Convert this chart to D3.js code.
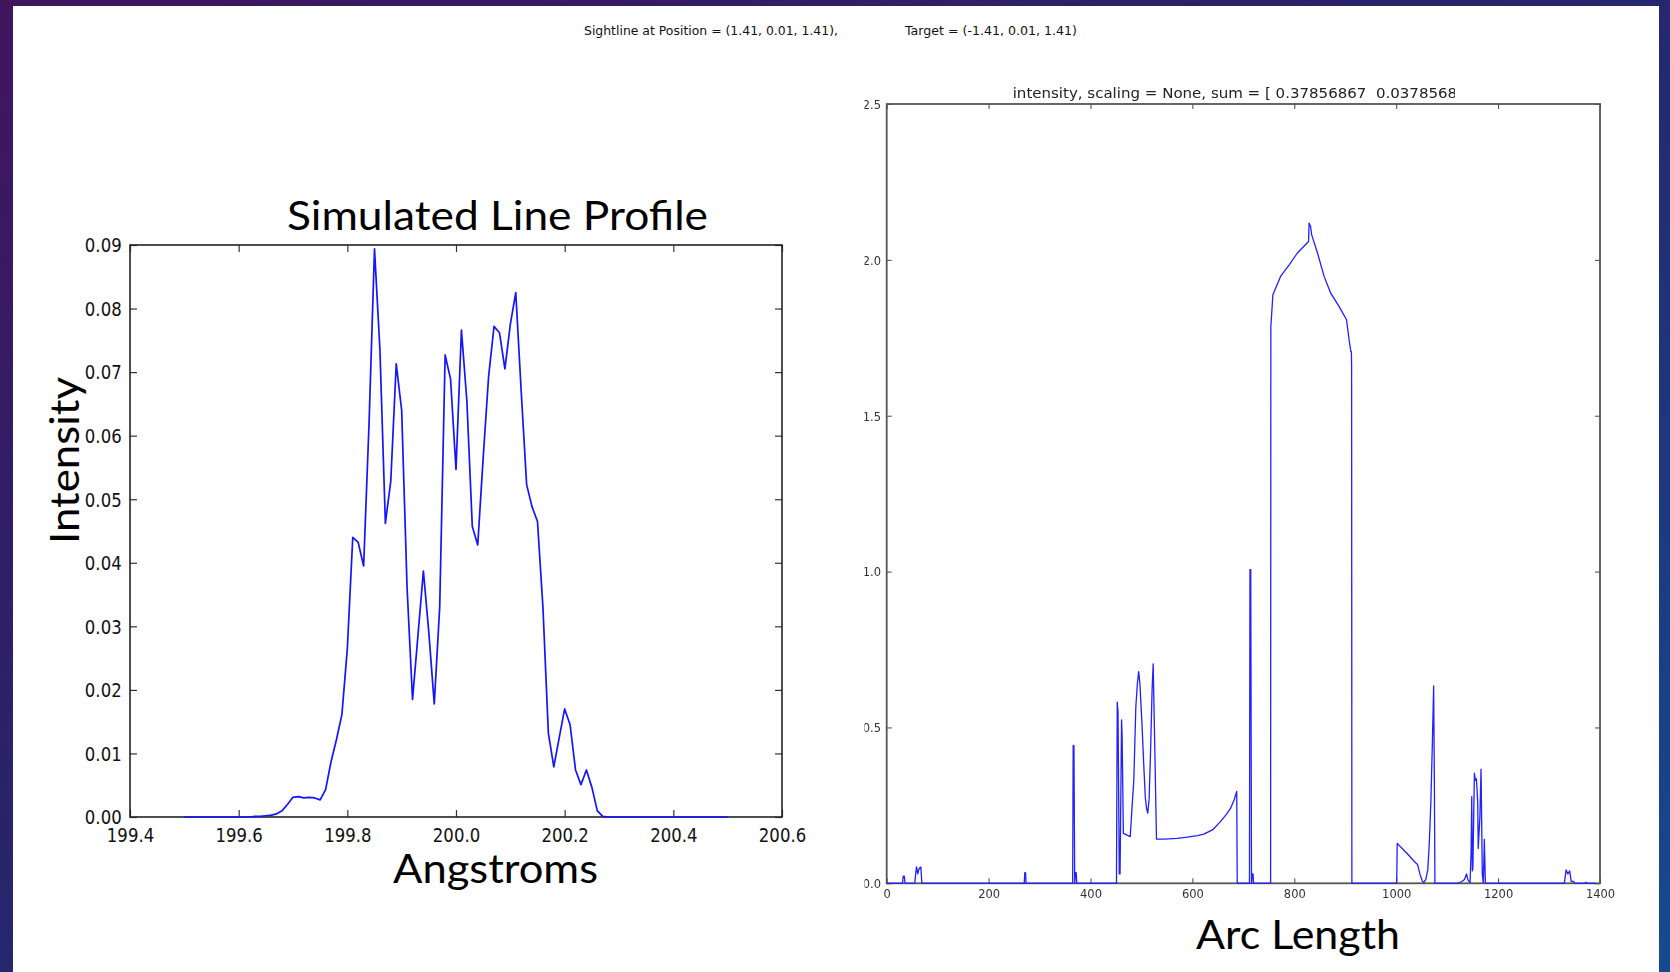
<!DOCTYPE html>
<html>
<head>
<meta charset="utf-8">
<script src="https://cdn.jsdelivr.net/npm/d3@7"></script>
<style>
  html, body { margin: 0; padding: 0; overflow: hidden; background: #1d2a6b; }
  svg { display: block; }
</style>
</head>
<body>
<svg id="chart" width="1670" height="972"></svg>
<script>
// ---------- Simulated line profile (Angstroms vs intensity) ----------
const wavelength = [
  199.50, 199.51, 199.52, 199.53, 199.54, 199.55, 199.56, 199.57, 199.58, 199.59,
  199.60, 199.61, 199.62, 199.63, 199.64, 199.65, 199.66, 199.67, 199.68, 199.69,
  199.70, 199.71, 199.72, 199.73, 199.74, 199.75, 199.76, 199.77, 199.78, 199.79,
  199.80, 199.81, 199.82, 199.83, 199.84, 199.85, 199.86, 199.87, 199.88, 199.89,
  199.90, 199.91, 199.92, 199.93, 199.94, 199.95, 199.96, 199.97, 199.98, 199.99,
  200.00, 200.01, 200.02, 200.03, 200.04, 200.05, 200.06, 200.07, 200.08, 200.09,
  200.10, 200.11, 200.12, 200.13, 200.14, 200.15, 200.16, 200.17, 200.18, 200.19,
  200.20, 200.21, 200.22, 200.23, 200.24, 200.25, 200.26, 200.27, 200.28, 200.29,
  200.30, 200.31, 200.32, 200.33, 200.34, 200.35, 200.36, 200.37, 200.38, 200.39,
  200.40, 200.41, 200.42, 200.43, 200.44, 200.45, 200.46, 200.47, 200.48, 200.49,
  200.50
];
const profileIntensity = [
  0, 0, 0, 0, 0, 0, 0, 0, 0, 0,
  0, 0, 0, 0.0001, 0.0001, 0.0002, 0.0003, 0.0005, 0.0010, 0.0020,
  0.0031, 0.0032, 0.0030, 0.0031, 0.0030, 0.0027, 0.0043, 0.0087, 0.0122, 0.0161,
  0.0265, 0.0440, 0.0432, 0.0395, 0.0620, 0.0894, 0.0735, 0.0462, 0.0529, 0.0713,
  0.0640, 0.0360, 0.0185, 0.0286, 0.0387, 0.0290, 0.0178, 0.0330, 0.0727, 0.0689,
  0.0547, 0.0766, 0.0655, 0.0457, 0.0428, 0.0565, 0.0693, 0.0772, 0.0762, 0.0705,
  0.0775, 0.0825, 0.0670, 0.0523, 0.0488, 0.0465, 0.0330, 0.0132, 0.0079, 0.0125,
  0.0170, 0.0145, 0.0074, 0.0051, 0.0074, 0.0047, 0.0010, 0.0001, 0, 0,
  0, 0, 0, 0, 0, 0, 0, 0, 0, 0,
  0, 0, 0, 0, 0, 0, 0, 0, 0, 0,
  0
];
const profileXTicks = [199.4, 199.6, 199.8, 200.0, 200.2, 200.4, 200.6];
const profileYTicks = [0, 0.01, 0.02, 0.03, 0.04, 0.05, 0.06, 0.07, 0.08, 0.09];

// ---------- Intensity along the sightline (arc length) ----------
const arcLength = [
  0, 31, 32.5, 34.5, 36,
  55, 58.5, 61, 63, 66, 67, 69,
  270, 271, 272.5, 273.5,
  365, 366, 367.5, 369, 370.5, 372, 373,
  451, 452.5, 454, 456.5, 458, 461, 462, 464.5, 478,
  481, 485, 489, 492, 494.5, 497, 501, 504.5, 507.5, 510, 512.4, 515, 517.6, 520.9, 523, 526, 529.5,
  545, 570, 590, 610, 622.5, 640, 655, 667, 675, 682, 687, 688,
  712, 713, 714.5, 716, 717.5, 719, 720,
  753.5, 754, 758, 773, 790, 806, 828, 829, 832, 834, 845.5, 858.5, 871.5, 888, 902.5, 907.5, 911, 912, 912.5, 913,
  1001, 1002, 1020, 1038, 1042, 1047, 1051, 1054, 1058, 1062, 1065, 1068, 1071, 1073.5, 1075, 1076,
  1120, 1128, 1134, 1138, 1141, 1145, 1147, 1148.3, 1149.5, 1150.5, 1153.5, 1155.5, 1157.5, 1160, 1161, 1164.3, 1166.5, 1169, 1171, 1173, 1175,
  1330, 1333.5, 1337, 1340.5, 1343.5, 1348.5, 1350, 1370, 1372, 1375, 1392
];
const arcIntensity = [
  0, 0, 0.023, 0.023, 0,
  0, 0.053, 0.030, 0.045, 0.052, 0.052, 0,
  0, 0.034, 0.034, 0,
  0, 0.442, 0.442, 0, 0.034, 0.034, 0,
  0, 0.581, 0.550, 0.030, 0.030, 0.524, 0.480, 0.160, 0.150,
  0.230, 0.330, 0.567, 0.640, 0.679, 0.640, 0.513, 0.380, 0.278, 0.240, 0.225, 0.270, 0.406, 0.620, 0.704, 0.450, 0.142,
  0.142, 0.144, 0.148, 0.153, 0.158, 0.172, 0.198, 0.222, 0.241, 0.268, 0.295, 0,
  0, 1.006, 1.006, 0, 0.030, 0.030, 0,
  0, 1.786, 1.888, 1.947, 1.984, 2.022, 2.059, 2.118, 2.107, 2.081, 2.022, 1.947, 1.893, 1.850, 1.808, 1.744, 1.706, 1.706, 1.660, 0,
  0, 0.128, 0.098, 0.066, 0.060, 0.027, 0.008, 0.002, 0.012, 0.043, 0.130, 0.260, 0.450, 0.633, 0.300, 0,
  0, 0.005, 0.012, 0.030, 0.010, 0.002, 0.100, 0.278, 0.040, 0.050, 0.353, 0.330, 0.335, 0.260, 0.112, 0.214, 0.366, 0.030, 0, 0.141, 0,
  0, 0.043, 0.030, 0.040, 0.006, 0.006, 0, 0, 0.003, 0, 0
];
const arcXTicks = [0, 200, 400, 600, 800, 1000, 1200, 1400];
const arcYTicks = [0, 0.5, 1.0, 1.5, 2.0, 2.5];

// ---------- Text ----------
const sightlineText = "Sightline at Position = (1.41, 0.01, 1.41),";
const targetText = "Target = (-1.41, 0.01, 1.41)";
const profileTitle = "Simulated Line Profile";
const profileYLabel = "Intensity";
const profileXLabel = "Angstroms";
const arcTitle = "intensity, scaling = None, sum = [ 0.37856867  0.03785687";
const arcXLabel = "Arc Length";

const svg = d3.select("#chart");
const defs = svg.append("defs");

// slide background
const bg = defs.append("linearGradient").attr("id", "slideBg")
  .attr("x1", "0%").attr("y1", "0%").attr("x2", "100%").attr("y2", "100%");
bg.append("stop").attr("offset", "0%").attr("stop-color", "#40155e");
bg.append("stop").attr("offset", "45%").attr("stop-color", "#27246a");
bg.append("stop").attr("offset", "100%").attr("stop-color", "#164a8f");
svg.append("rect").attr("width", 1670).attr("height", 972).attr("fill", "url(#slideBg)");
svg.append("rect").attr("x", 13).attr("y", 6).attr("width", 1646).attr("height", 966).attr("fill", "#ffffff");

defs.append("filter").attr("id", "soft").attr("x", "-5%").attr("y", "-5%").attr("width", "110%").attr("height", "110%")
  .append("feGaussianBlur").attr("stdDeviation", 0.45);

const tickFont = "'DejaVu Sans', 'Bitstream Vera Sans', sans-serif";
const slideFont = "Lato, 'Open Sans', sans-serif";

// header line
svg.append("text").attr("x", 584).attr("y", 35)
  .attr("textLength", 254).attr("lengthAdjust", "spacingAndGlyphs")
  .style("font-family", tickFont).style("font-size", "12.5px").attr("fill", "#111")
  .text(sightlineText);
svg.append("text").attr("x", 905).attr("y", 35)
  .attr("textLength", 172).attr("lengthAdjust", "spacingAndGlyphs")
  .style("font-family", tickFont).style("font-size", "12.5px").attr("fill", "#111")
  .text(targetText);

// ================= left panel =================
const L = { x0: 130, x1: 782, y0: 245, y1: 817 };
const xL = d3.scaleLinear().domain([199.4, 200.6]).range([L.x0, L.x1]);
const yL = d3.scaleLinear().domain([0, 0.09]).range([L.y1, L.y0]);
const gL = svg.append("g");

function styleTicks(g, color, width) {
  g.select(".domain").remove();
  g.selectAll(".tick line").attr("stroke", color).attr("stroke-width", width);
}

const lb = gL.append("g").attr("transform", `translate(0,${L.y1})`)
  .call(d3.axisBottom(xL).tickValues(profileXTicks).tickFormat(d3.format(".1f")).tickSize(-7).tickSizeOuter(0));
styleTicks(lb, "#333", 1.2);
lb.selectAll(".tick text").attr("y", 25).attr("dy", 0)
  .attr("transform", "scale(0.87,1)")
  .style("font-family", tickFont).style("font-size", "19px").attr("fill", "#111");

const ll = gL.append("g").attr("transform", `translate(${L.x0},0)`)
  .call(d3.axisLeft(yL).tickValues(profileYTicks).tickFormat(d3.format(".2f")).tickSize(-7).tickSizeOuter(0));
styleTicks(ll, "#333", 1.2);
ll.selectAll(".tick text").attr("x", -9.6).attr("dy", "0.36em")
  .attr("transform", "scale(0.87,1)")
  .style("font-family", tickFont).style("font-size", "19px").attr("fill", "#111");

const lt = gL.append("g").attr("transform", `translate(0,${L.y0})`)
  .call(d3.axisTop(xL).tickValues(profileXTicks).tickFormat("").tickSize(-7).tickSizeOuter(0));
styleTicks(lt, "#333", 1.2);
const lr = gL.append("g").attr("transform", `translate(${L.x1},0)`)
  .call(d3.axisRight(yL).tickValues(profileYTicks).tickFormat("").tickSize(-7).tickSizeOuter(0));
styleTicks(lr, "#333", 1.2);

gL.append("rect").attr("x", L.x0).attr("y", L.y0)
  .attr("width", L.x1 - L.x0).attr("height", L.y1 - L.y0)
  .attr("fill", "none").attr("stroke", "#222").attr("stroke-width", 1.6);

const profileLine = d3.line().x(d => xL(d[0])).y(d => yL(d[1]));
gL.append("path")
  .datum(d3.zip(wavelength, profileIntensity))
  .attr("d", profileLine)
  .attr("fill", "none").attr("stroke", "#1414ff").attr("stroke-width", 1.7)
  .attr("stroke-linejoin", "round");

gL.append("text").attr("x", 287).attr("y", 229.5)
  .attr("textLength", 421).attr("lengthAdjust", "spacingAndGlyphs")
  .style("font-family", slideFont).style("font-size", "41px").attr("fill", "#000")
  .text(profileTitle);
gL.append("text").attr("transform", "translate(78.5,544) rotate(-90)")
  .attr("textLength", 167).attr("lengthAdjust", "spacingAndGlyphs")
  .style("font-family", slideFont).style("font-size", "40.5px").attr("fill", "#000")
  .text(profileYLabel);
gL.append("text").attr("x", 393).attr("y", 883)
  .attr("textLength", 205).attr("lengthAdjust", "spacingAndGlyphs")
  .style("font-family", slideFont).style("font-size", "40px").attr("fill", "#000")
  .text(profileXLabel);

// ================= right panel =================
const R = { x0: 886.7, x1: 1600, y0: 104, y1: 883.3 };
const xR = d3.scaleLinear().domain([0, 1400]).range([R.x0, R.x1]);
const yR = d3.scaleLinear().domain([0, 2.5]).range([R.y1, R.y0]);

// clip regions are given in page coordinates (used on untransformed groups)
defs.append("clipPath").attr("id", "labelClip")
  .append("rect").attr("x", 864.5).attr("y", 0).attr("width", 800).attr("height", 972);
defs.append("clipPath").attr("id", "titleClip")
  .append("rect").attr("x", 0).attr("y", 0).attr("width", 1455).attr("height", 972);

const gR = svg.append("g").attr("filter", "url(#soft)");

const rb = gR.append("g").attr("transform", `translate(0,${R.y1})`)
  .call(d3.axisBottom(xR).tickValues(arcXTicks).tickFormat(d3.format("d")).tickSize(-5).tickSizeOuter(0));
styleTicks(rb, "#444", 1);
rb.selectAll(".tick text").attr("y", 15).attr("dy", 0)
  .attr("transform", "scale(0.92,1)")
  .style("font-family", tickFont).style("font-size", "12.5px").attr("fill", "#333");

const rlWrap = gR.append("g").attr("clip-path", "url(#labelClip)");
const rl = rlWrap.append("g").attr("transform", `translate(${R.x0},0)`)
  .call(d3.axisLeft(yR).tickValues(arcYTicks).tickFormat(d3.format(".1f")).tickSize(-5).tickSizeOuter(0));
styleTicks(rl, "#444", 1);
rl.selectAll(".tick text").attr("x", -6.2).attr("dy", "0.35em")
  .attr("transform", "scale(0.92,1)")
  .style("font-family", tickFont).style("font-size", "12.5px").attr("fill", "#333");

const rt = gR.append("g").attr("transform", `translate(0,${R.y0})`)
  .call(d3.axisTop(xR).tickValues(arcXTicks).tickFormat("").tickSize(-5).tickSizeOuter(0));
styleTicks(rt, "#444", 1);
const rr = gR.append("g").attr("transform", `translate(${R.x1},0)`)
  .call(d3.axisRight(yR).tickValues(arcYTicks).tickFormat("").tickSize(-5).tickSizeOuter(0));
styleTicks(rr, "#444", 1);

gR.append("rect").attr("x", R.x0).attr("y", R.y0)
  .attr("width", R.x1 - R.x0).attr("height", R.y1 - R.y0)
  .attr("fill", "none").attr("stroke", "#555").attr("stroke-width", 1.8);

const arcLine = d3.line().x(d => xR(d[0])).y(d => yR(d[1]));
gR.append("path")
  .datum(d3.zip(arcLength, arcIntensity))
  .attr("d", arcLine)
  .attr("fill", "none").attr("stroke", "#2020ff").attr("stroke-width", 1.3)
  .attr("stroke-linejoin", "round");

gR.append("text").attr("x", 1012.7).attr("y", 98)
  .attr("clip-path", "url(#titleClip)")
  .attr("textLength", 454).attr("lengthAdjust", "spacingAndGlyphs")
  .style("white-space", "pre")
  .style("font-family", tickFont).style("font-size", "13.5px").attr("fill", "#222")
  .text(arcTitle);

svg.append("text").attr("x", 1196).attr("y", 948.5)
  .attr("textLength", 204).attr("lengthAdjust", "spacingAndGlyphs")
  .style("font-family", slideFont).style("font-size", "41px").attr("fill", "#000")
  .text(arcXLabel);
</script>
</body>
</html>
